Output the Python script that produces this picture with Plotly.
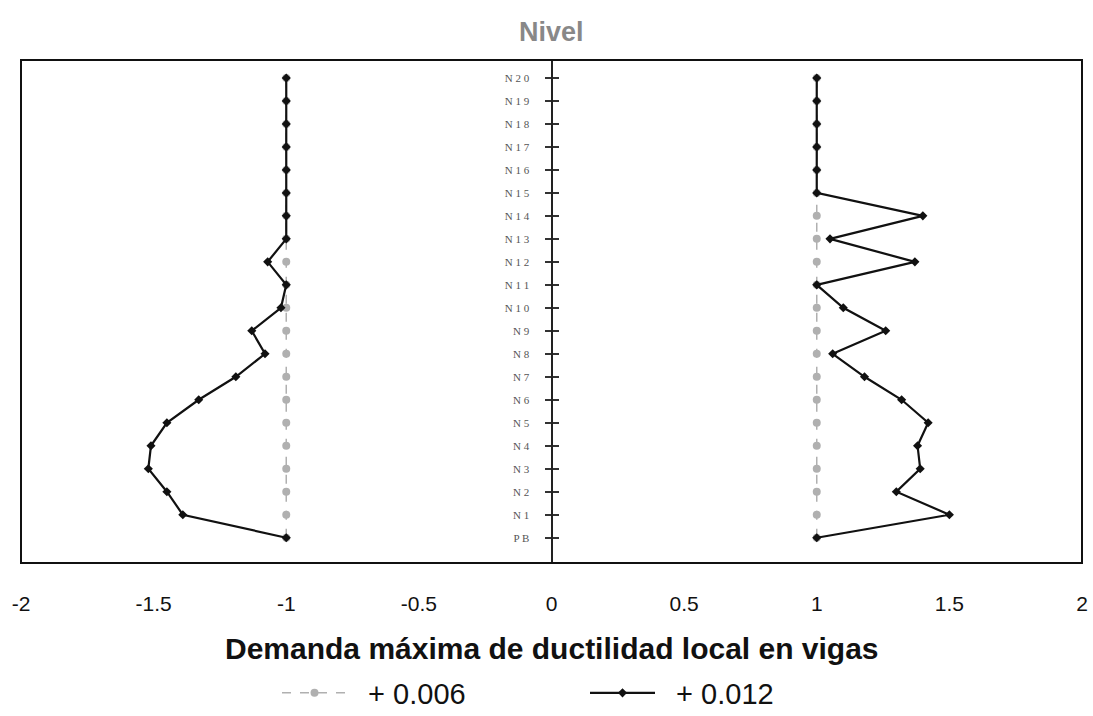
import plotly.graph_objects as go

levels = ["PB"] + [f"N{i}" for i in range(1, 21)]
level_labels = ["P B"] + [" ".join(f"N{i}") for i in range(1, 21)]
level_pos = list(range(len(levels)))

# +0.006 series (left / right)
left_006 = [-1.0] * 21
right_006 = [1.0] * 21

# +0.012 series (left / right), from PB up to N20
left_012 = [-1.0, -1.39, -1.45, -1.52, -1.51, -1.45, -1.33, -1.19, -1.08, -1.13,
            -1.02, -1.0, -1.07, -1.0, -1.0, -1.0, -1.0, -1.0, -1.0, -1.0, -1.0]
right_012 = [1.0, 1.50, 1.30, 1.39, 1.38, 1.42, 1.32, 1.18, 1.06, 1.26,
             1.10, 1.0, 1.37, 1.05, 1.40, 1.0, 1.0, 1.0, 1.0, 1.0, 1.0]

x_ticks = [-2, -1.5, -1, -0.5, 0, 0.5, 1, 1.5, 2]

W, H = 1093, 716
ML, MT, MR, MB = 21, 60, 11, 153
PH = H - MT - MB


def py(pix):
    """pixel y (from top) -> paper y"""
    return (H - MB - pix) / PH


def cy(pix):
    """pixel y -> container y"""
    return (H - pix) / H


NB = "\u00a0\u00a0"

fig = go.Figure()
gray_style = dict(mode="lines+markers", line=dict(color="#b0b0b0", width=1.5, dash="dash"),
                  marker=dict(symbol="circle", size=8, color="#b0b0b0"))
black_style = dict(mode="lines+markers", line=dict(color="#111111", width=2.2),
                   marker=dict(symbol="diamond", size=7, color="#111111"))

fig.add_trace(go.Scatter(x=left_006, y=level_pos, name=NB + "+ 0.006", legend="legend", **gray_style))
fig.add_trace(go.Scatter(x=right_006, y=level_pos, name=NB + "+ 0.006", showlegend=False, **gray_style))
fig.add_trace(go.Scatter(x=left_012, y=level_pos, name=NB + "+ 0.012", legend="legend2", **black_style))
fig.add_trace(go.Scatter(x=right_012, y=level_pos, name=NB + "+ 0.012", showlegend=False, **black_style))

yrange = [-1.1, 20.78]
leg_common = dict(orientation="h", xref="container", xanchor="left", yref="container",
                  y=cy(693), yanchor="middle", font=dict(size=29, color="#111111"),
                  itemwidth=65, bgcolor="rgba(0,0,0,0)")

fig.update_layout(
    width=W, height=H,
    margin=dict(l=ML, r=MR, t=MT, b=MB),
    plot_bgcolor="white", paper_bgcolor="white",
    font=dict(family="Liberation Sans, Arial", color="#111111"),
    showlegend=True,
    legend=dict(x=277 / W, **leg_common),
    legend2=dict(x=585 / W, **leg_common),
    xaxis=dict(range=[-2, 2], tickvals=x_ticks, ticktext=[str(v) for v in x_ticks],
               showgrid=False, zeroline=False, showline=False, ticks="", automargin=False,
               ticklabeloverflow="allow",
               tickfont=dict(size=21, color="#111111"), ticklabelstandoff=26),
    yaxis=dict(range=yrange, tickvals=level_pos, ticktext=level_labels,
               anchor="free", position=0.5, automargin=False,
               showline=True, linecolor="#222222", linewidth=2,
               ticks="outside", ticklen=6, tickcolor="#333333", tickwidth=1.5,
               ticklabelstandoff=13,
               showgrid=False, zeroline=False,
               tickfont=dict(family="Liberation Serif, serif", size=11, color="#555555")),
    yaxis2=dict(range=yrange, tickvals=level_pos, overlaying="y", anchor="free", position=0.5,
                side="right", automargin=False, showline=False, showgrid=False, zeroline=False,
                ticks="outside", ticklen=6, tickcolor="#333333", tickwidth=1.5,
                showticklabels=False),
    annotations=[
        dict(text="<b>Nivel</b>", x=0.5, y=py(32), xref="paper", yref="paper", showarrow=False,
             font=dict(size=27, color="#888888"), yanchor="middle"),
        dict(text="<b>Demanda máxima de ductilidad local en vigas</b>", x=0.5, y=py(648),
             xref="paper", yref="paper", showarrow=False,
             font=dict(size=30, color="#111111"), yanchor="middle"),
    ],
    shapes=[dict(type="rect", xref="paper", yref="paper", x0=0, x1=1, y0=0, y1=1,
                 line=dict(color="#111111", width=2))],
)
# invisible trace so yaxis2 (right-hand half of the crossing ticks) is drawn
fig.add_trace(go.Scatter(x=[0], y=[0], yaxis="y2", mode="markers", marker=dict(opacity=0),
                         showlegend=False, hoverinfo="skip"))
fig.write_html("out.html", config={"displayModeBar": False},
               post_script="document.body.style.margin='0';document.body.style.overflow='hidden';")
